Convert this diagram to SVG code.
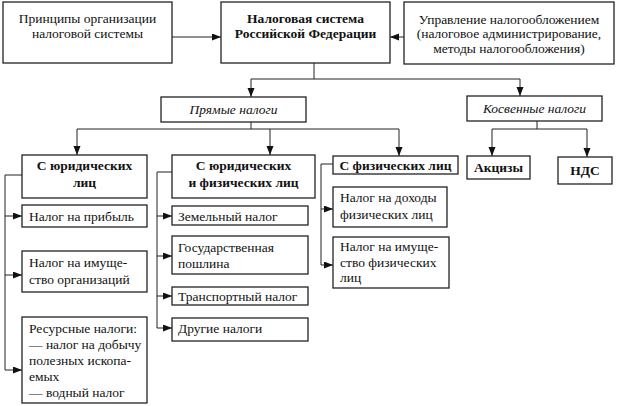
<svg xmlns="http://www.w3.org/2000/svg" width="620" height="406" viewBox="0 0 620 406">
<defs>
<marker id="ah" markerUnits="userSpaceOnUse" markerWidth="10" markerHeight="8" refX="9" refY="3.5" orient="auto">
<path d="M0,0 L9,3.5 L0,7 Z" fill="#111"/>
</marker>
<style>
.box{fill:#fff;stroke:#222;stroke-width:1.3}
.t{font-family:'Liberation Serif','Times New Roman','DejaVu Serif',serif;font-size:13.5px;fill:#111}
.c{text-anchor:middle}
.b{font-weight:bold}
.i{font-style:italic}
.ln{fill:none;stroke:#222;stroke-width:1}
.ar{fill:none;stroke:#222;stroke-width:1;marker-end:url(#ah)}
</style>
</defs>
<rect width="620" height="406" fill="#fff"/>
<g id="connectors">
<path class="ar" d="M172,37 H221"/>
<path class="ar" d="M404,37 H390"/>
<path class="ln" d="M314,63 V79 M251,79 H520"/>
<path class="ar" d="M251,79 V97"/>
<path class="ar" d="M520,79 V96"/>
<path class="ln" d="M251,122 V129 M77,129 H399"/>
<path class="ar" d="M77,129 V155"/>
<path class="ar" d="M270,129 V155"/>
<path class="ar" d="M399,129 V156"/>
<path class="ln" d="M537,121 V129 M492,129 H587"/>
<path class="ar" d="M492,129 V156"/>
<path class="ar" d="M587,129 V157"/>
<path class="ln" d="M22,175 H5 V370"/>
<path class="ar" d="M5,216 H22"/>
<path class="ar" d="M5,275 H22"/>
<path class="ar" d="M5,370 H22"/>
<path class="ln" d="M172,172 H157 V328"/>
<path class="ar" d="M157,216 H172"/>
<path class="ar" d="M157,256 H172"/>
<path class="ar" d="M157,296 H172"/>
<path class="ar" d="M157,328 H172"/>
<path class="ln" d="M333,164 H321 V265"/>
<path class="ar" d="M321,209 H333"/>
<path class="ar" d="M321,265 H333"/>
</g>
<g id="principles">
<rect class="box" x="3" y="2" width="169" height="61"/>
<text class="t c" x="87.5" y="23">Принципы организации</text>
<text class="t c" x="87.5" y="38">налоговой системы</text>
</g>
<g id="tax-system">
<rect class="box" x="221" y="2" width="169" height="61"/>
<text class="t c b" x="305.5" y="23">Налоговая система</text>
<text class="t c b" x="305.5" y="38">Российской Федерации</text>
</g>
<g id="administration">
<rect class="box" x="404" y="2" width="210" height="62"/>
<text class="t c" x="509" y="24">Управление налогообложением</text>
<text class="t c" x="509" y="38">(налоговое администрирование,</text>
<text class="t c" x="509" y="53">методы налогообложения)</text>
</g>
<g id="direct">
<rect class="box" x="161" y="97" width="145" height="25"/>
<text class="t c i" x="233.5" y="114">Прямые налоги</text>
</g>
<g id="indirect">
<rect class="box" x="467" y="96" width="135" height="25"/>
<text class="t c i" x="534.5" y="113">Косвенные налоги</text>
</g>
<g id="legal">
<rect class="box" x="22" y="155" width="125" height="43"/>
<text class="t c b" x="84.5" y="170">С юридических</text>
<text class="t c b" x="84.5" y="187">лиц</text>
</g>
<g id="legal-physical">
<rect class="box" x="172" y="155" width="143" height="43"/>
<text class="t c b" x="243.5" y="170">С юридических</text>
<text class="t c b" x="243.5" y="187">и физических лиц</text>
</g>
<g id="physical">
<rect class="box" x="333" y="156" width="125" height="18"/>
<text class="t c b" x="395.5" y="170">С физических лиц</text>
</g>
<g id="excises">
<rect class="box" x="467" y="156" width="63" height="23"/>
<text class="t c b" x="498.5" y="172">Акцизы</text>
</g>
<g id="vat">
<rect class="box" x="558" y="157" width="54" height="27"/>
<text class="t c b" x="585" y="175">НДС</text>
</g>
<g id="profit-tax">
<rect class="box" x="22" y="205" width="125" height="22"/>
<text class="t" x="29" y="221">Налог на прибыль</text>
</g>
<g id="org-property-tax">
<rect class="box" x="22" y="251" width="125" height="41"/>
<text class="t" x="29" y="267">Налог на имуще-</text>
<text class="t" x="29" y="284">ство организаций</text>
</g>
<g id="resource-taxes">
<rect class="box" x="22" y="317" width="125" height="86"/>
<text class="t" x="29" y="333">Ресурсные налоги:</text>
<text class="t" x="29" y="349">— налог на добычу</text>
<text class="t" x="29" y="365">полезных ископа-</text>
<text class="t" x="29" y="381">емых</text>
<text class="t" x="29" y="397">— водный налог</text>
</g>
<g id="land-tax">
<rect class="box" x="172" y="206" width="136" height="19"/>
<text class="t" x="178" y="221">Земельный налог</text>
</g>
<g id="state-duty">
<rect class="box" x="172" y="236" width="136" height="38"/>
<text class="t" x="178" y="252">Государственная</text>
<text class="t" x="178" y="268">пошлина</text>
</g>
<g id="transport-tax">
<rect class="box" x="172" y="287" width="136" height="18"/>
<text class="t" x="178" y="301">Транспортный налог</text>
</g>
<g id="other-taxes">
<rect class="box" x="172" y="318" width="136" height="23"/>
<text class="t" x="178" y="333">Другие налоги</text>
</g>
<g id="income-tax">
<rect class="box" x="333" y="187" width="114" height="40"/>
<text class="t" x="340" y="202">Налог на доходы</text>
<text class="t" x="340" y="219">физических лиц</text>
</g>
<g id="personal-property-tax">
<rect class="box" x="333" y="237" width="116" height="51"/>
<text class="t" x="340" y="251">Налог на имуще-</text>
<text class="t" x="340" y="267">ство физических</text>
<text class="t" x="340" y="282">лиц</text>
</g>
</svg>
